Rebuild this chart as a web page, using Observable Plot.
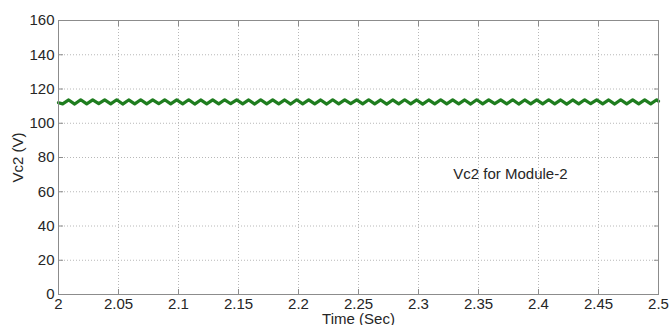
<!DOCTYPE html>
<html><head><meta charset="utf-8">
<script src="https://cdn.jsdelivr.net/npm/d3@7"></script>
<script src="https://cdn.jsdelivr.net/npm/@observablehq/plot@0.6"></script>
<style>body{margin:0;background:#fff}</style>
</head><body><div id="chart"></div>
<script>
const time = [2,
 2.0035, 2.0085, 2.0135, 2.0185, 2.0235, 2.0285, 2.0335, 2.0385, 2.0435, 2.0485,
 2.0535, 2.0585, 2.0635, 2.0685, 2.0735, 2.0785, 2.0835, 2.0885, 2.0935, 2.0985,
 2.1035, 2.1085, 2.1135, 2.1185, 2.1235, 2.1285, 2.1335, 2.1385, 2.1435, 2.1485,
 2.1535, 2.1585, 2.1635, 2.1685, 2.1735, 2.1785, 2.1835, 2.1885, 2.1935, 2.1985,
 2.2035, 2.2085, 2.2135, 2.2185, 2.2235, 2.2285, 2.2335, 2.2385, 2.2435, 2.2485,
 2.2535, 2.2585, 2.2635, 2.2685, 2.2735, 2.2785, 2.2835, 2.2885, 2.2935, 2.2985,
 2.3035, 2.3085, 2.3135, 2.3185, 2.3235, 2.3285, 2.3335, 2.3385, 2.3435, 2.3485,
 2.3535, 2.3585, 2.3635, 2.3685, 2.3735, 2.3785, 2.3835, 2.3885, 2.3935, 2.3985,
 2.4035, 2.4085, 2.4135, 2.4185, 2.4235, 2.4285, 2.4335, 2.4385, 2.4435, 2.4485,
 2.4535, 2.4585, 2.4635, 2.4685, 2.4735, 2.4785, 2.4835, 2.4885, 2.4935, 2.4985,
 2.5];
const vc2 = [112.0,
 111.3, 113.6, 111.2, 113.7, 111.3, 113.6, 111.4, 113.6, 111.3, 113.7,
 111.2, 113.6, 111.3, 113.7, 111.3, 113.6, 111.4, 113.7, 111.3, 113.6,
 111.3, 113.7, 111.2, 113.6, 111.3, 113.6, 111.3, 113.7, 111.4, 113.6,
 111.3, 113.6, 111.2, 113.7, 111.3, 113.6, 111.3, 113.6, 111.2, 113.7,
 111.3, 113.6, 111.3, 113.6, 111.2, 113.7, 111.3, 113.6, 111.4, 113.6,
 111.3, 113.7, 111.3, 113.6, 111.2, 113.6, 111.3, 113.7, 111.3, 113.6,
 111.2, 113.6, 111.3, 113.7, 111.3, 113.6, 111.3, 113.6, 111.2, 113.7,
 111.3, 113.6, 111.4, 113.6, 111.3, 113.7, 111.2, 113.6, 111.3, 113.6,
 111.3, 113.7, 111.3, 113.6, 111.2, 113.6, 111.3, 113.7, 111.4, 113.6,
 111.3, 113.6, 111.2, 113.7, 111.3, 113.6, 111.3, 113.6, 111.3, 113.7,
 112.9];
const xTicks = [2, 2.05, 2.1, 2.15, 2.2, 2.25, 2.3, 2.35, 2.4, 2.45, 2.5];
const yTicks = [0, 20, 40, 60, 80, 100, 120, 140, 160];
const noteText = ["Vc2 for Module-2"];
const noteTime = [2.329];
const noteValue = [70];

const data = time.map((t, i) => ({t, v: vc2[i]}));
const notes = noteText.map((s, i) => ({s, t: noteTime[i], v: noteValue[i]}));

const axisColor = "#8c8c8c";
const textColor = "#262626";
const gridStyle = {stroke: "#b8b8b8", strokeOpacity: 1, strokeDasharray: "1,2"};
const plain = d => String(d);

const chart = Plot.plot({
  width: 672, height: 325,
  marginLeft: 58, marginRight: 14, marginTop: 20, marginBottom: 31,
  style: {fontFamily: "'Liberation Sans', Arial, sans-serif", fontSize: "15px", color: textColor, background: "#fff"},
  x: {domain: [2, 2.5]},
  y: {domain: [0, 160]},
  marks: [
    Plot.gridX(xTicks, gridStyle),
    Plot.gridY(yTicks, gridStyle),
    Plot.line(data, {x: "t", y: "v", stroke: "#1f7d1f", strokeWidth: 3.2}),
    Plot.frame({stroke: axisColor}),
    Plot.axisX(xTicks, {anchor: "bottom", tickSize: 0, tickPadding: 4, tickFormat: plain, fill: textColor, label: "Time (Sec)", labelAnchor: "center", labelArrow: "none", labelOffset: 29}),
    Plot.axisX(xTicks, {anchor: "bottom", tickSize: -5, tickFormat: () => "", stroke: axisColor, label: null}),
    Plot.axisX(xTicks, {anchor: "top", tickSize: -5, tickFormat: () => "", stroke: axisColor, label: null}),
    Plot.axisY(yTicks, {anchor: "left", tickSize: 0, tickPadding: 4, tickFormat: plain, fill: textColor, label: "Vc2 (V)", labelAnchor: "center", labelArrow: "none", labelOffset: 46}),
    Plot.axisY(yTicks, {anchor: "left", tickSize: -5, tickFormat: () => "", stroke: axisColor, label: null}),
    Plot.axisY(yTicks, {anchor: "right", tickSize: -5, tickFormat: () => "", stroke: axisColor, label: null}),
    Plot.text(notes, {x: "t", y: "v", text: "s", textAnchor: "start", fill: textColor, fontSize: 15})
  ]
});
document.getElementById("chart").appendChild(chart);
</script>
</body></html>
